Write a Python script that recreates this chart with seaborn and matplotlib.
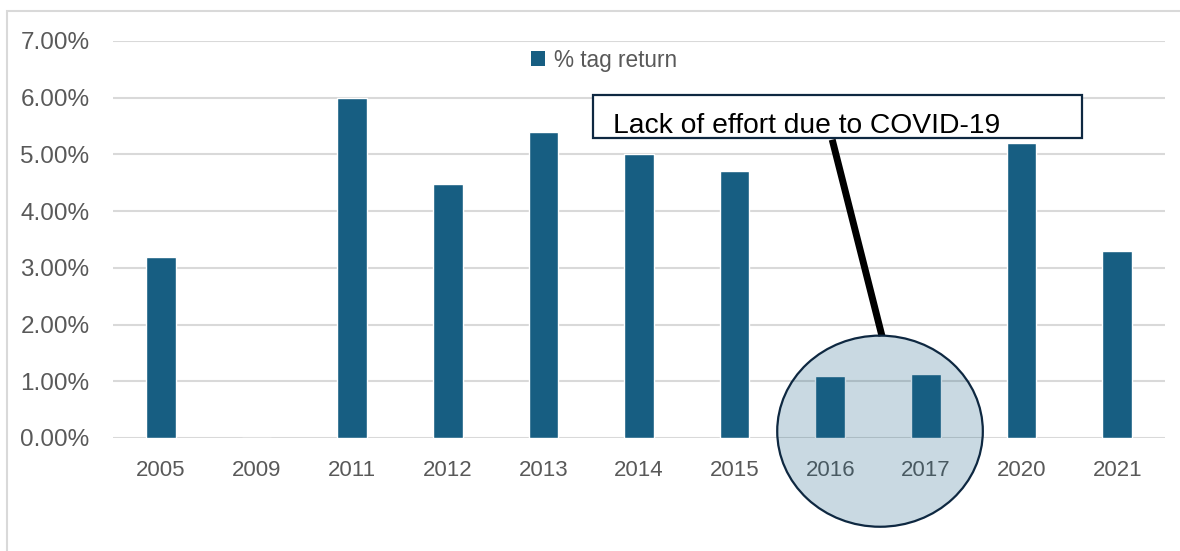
import matplotlib
matplotlib.use("Agg")
import matplotlib.pyplot as plt
from matplotlib.patches import Ellipse, Rectangle, Patch
from matplotlib.lines import Line2D
from matplotlib.ticker import PercentFormatter
import seaborn as sns
import pandas as pd

# Share of tags returned per survey year
years = ["2005", "2009", "2011", "2012", "2013", "2014", "2015", "2016", "2017", "2020", "2021"]
tag_return = [0.032, 0.0, 0.060, 0.0447, 0.054, 0.050, 0.047, 0.011, 0.0113, 0.052, 0.033]
series_label = "% tag return"
note_text = "Lack of effort due to COVID-19"

bar_color = "#175E82"
grid_color = "#D9D9D9"
text_color = "#595959"
navy = "#0E2841"

sns.set_theme(style="white")
plt.rcParams["font.family"] = ["Liberation Sans", "DejaVu Sans"]

df = pd.DataFrame({"year": years, "value": tag_return})

fig = plt.figure(figsize=(11.8, 5.51), dpi=100)
ax = fig.add_axes([0.0958, 0.2051, 0.8915, 0.7205])

sns.barplot(data=df, x="year", y="value", color=bar_color, width=0.31,
            saturation=1, ax=ax, zorder=3)

ax.set_ylim(0, 0.07)
ax.set_xlim(-0.5, len(years) - 0.5)
ax.set_yticks([i / 100 for i in range(8)])
ax.yaxis.set_major_formatter(PercentFormatter(xmax=1, decimals=2))
ax.yaxis.grid(True, color=grid_color, linewidth=1.5, zorder=0)
ax.set_axisbelow(True)
for s in ax.spines.values():
    s.set_visible(False)
ax.tick_params(axis="y", length=0, pad=17, labelsize=17.5, labelcolor=text_color)
ax.tick_params(axis="x", length=0, pad=15.5, labelsize=16, labelcolor=text_color)
ax.set_xlabel("")
ax.set_ylabel("")

# Legend
handle = Patch(facecolor=bar_color, edgecolor="none", label=series_label)
ax.legend(handles=[handle], loc="center", bbox_to_anchor=(0.467, 0.952),
          frameon=False, fontsize=16.3, labelcolor=text_color,
          handlelength=0.6, handleheight=0.6, handletextpad=0.4)

# Callout: pointer line, highlight ellipse and text box
ax.add_line(Line2D([7.02, 7.54], [0.0526, 0.0180], color="black", lw=5,
                   zorder=4, clip_on=False, solid_capstyle="butt"))
ax.add_patch(Ellipse((7.52, 0.0012), width=2.15, height=0.0337,
                     facecolor=bar_color, alpha=0.23, edgecolor="none",
                     zorder=5, clip_on=False))
ax.add_patch(Ellipse((7.52, 0.0012), width=2.15, height=0.0337,
                     facecolor="none", edgecolor=navy, lw=1.6,
                     zorder=6, clip_on=False))
ax.add_patch(Rectangle((4.52, 0.0529), 5.11, 0.0076, facecolor="white",
                       edgecolor=navy, lw=1.6, zorder=7, clip_on=False))
ax.text(4.73, 0.0550, note_text, fontsize=20.3, color="black",
        ha="left", va="center", zorder=8)

# Light outer frame
fig.add_artist(Rectangle((7 / 1180, -0.05), 1.1, 1 - 11 / 551 + 0.05,
                         transform=fig.transFigure, fill=False,
                         edgecolor=grid_color, lw=1.5))

fig.savefig("out.png", dpi=100)
